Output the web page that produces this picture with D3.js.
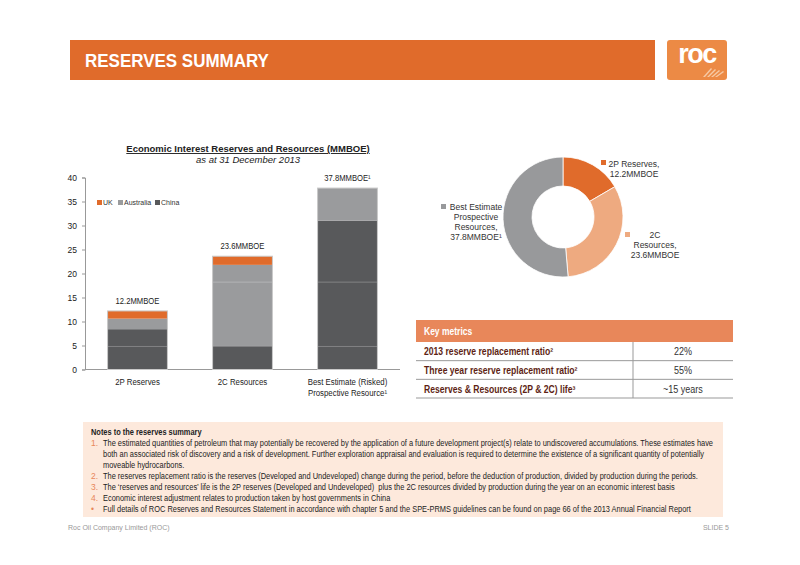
<!DOCTYPE html>
<html>
<head>
<meta charset="utf-8">
<script src="https://cdn.jsdelivr.net/npm/d3@7"></script>
<style>
  body { margin: 0; background: #fff; }
  svg { display: block; }
  text { font-family: "Liberation Sans Narrow", "Liberation Sans", Arial, sans-serif; }
</style>
</head>
<body>
<div id="slide"></div>
<script>
// bar chart data (MMBOE)
var categories = ["2P Reserves", "2C Resources", "Best Estimate (Risked)|Prospective Resource\u00b9"];
var china = [8.4, 4.9, 31.0];
var australia = [2.2, 16.9, 6.8];
var uk = [1.6, 1.8, 0];
var totalLabels = ["12.2MMBOE", "23.6MMBOE", "37.8MMBOE\u00b9"];
var segmentBreaks = [4.8, 18.2];
var yTicks = [0, 5, 10, 15, 20, 25, 30, 35, 40];

// donut data
var donutNames = ["2P Reserves", "2C Resources", "Best Estimate Prospective Resources"];
var donutValues = [12.2, 23.6, 37.8];

// key metrics table
var metricNames = ["2013 reserve replacement ratio\u00b2", "Three year reserve replacement ratio\u00b2", "Reserves & Resources (2P & 2C) life\u00b3"];
var metricValues = ["22%", "55%", "~15 years"];

var notes = [
  ["1.", ["The estimated quantities of petroleum that may potentially be recovered by the application of a future development project(s) relate to undiscovered accumulations. These estimates have",
          "both an associated risk of discovery and a risk of development. Further exploration appraisal and evaluation is required to determine the existence of a significant quantity of potentially",
          "moveable hydrocarbons."]],
  ["2.", ["The reserves replacement ratio is the reserves (Developed and Undeveloped) change during the period, before the deduction of production, divided by production during the periods."]],
  ["3.", ["The \u2018reserves and resources\u2019 life is the 2P reserves (Developed and Undeveloped)  plus the 2C resources divided by production during the year on an economic interest basis"]],
  ["4.", ["Economic interest adjustment relates to production taken by host governments in China"]],
  ["\u2022", ["Full details of ROC Reserves and Resources Statement in accordance with chapter 5 and the SPE-PRMS guidelines can be found on page 66 of the 2013 Annual Financial Report"]]
];

var orange = "#e06b2b",
    grey = "#9a9b9d",
    dark = "#58595b";

var svg = d3.select("#slide").append("svg")
    .attr("width", 800)
    .attr("height", 565);

// squeeze a text element horizontally (no narrow font available)
function condense(t, factor) {
  var w = t.node().getComputedTextLength();
  t.attr("textLength", w * factor).attr("lengthAdjust", "spacingAndGlyphs");
  return t;
}

// ---- header banner ----
svg.append("rect").attr("x", 70).attr("y", 40).attr("width", 585).attr("height", 40).attr("fill", orange);
condense(svg.append("text").attr("x", 85).attr("y", 67)
    .attr("fill", "#fff").attr("font-size", 17.5).attr("font-weight", "bold")
    .style("font-family", "'Liberation Sans', Arial, sans-serif")
    .text("RESERVES SUMMARY"), 0.97);

var logo = svg.append("g").attr("transform", "translate(667,40)");
logo.append("rect").attr("width", 60).attr("height", 40).attr("rx", 3).attr("fill", "#ec8a45");
logo.append("text").attr("x", 30).attr("y", 23).attr("text-anchor", "middle")
    .attr("fill", "#fff").attr("font-size", 27).attr("font-weight", "bold")
    .style("font-family", "'Liberation Sans', Arial, sans-serif")
    .attr("letter-spacing", -1.5)
    .text("roc");
[0, 1, 2, 3].forEach(function(k) {
  logo.append("path")
    .attr("d", "M" + (36 + k * 4) + ",37 L" + (44 + k * 4) + "," + (28 + k) + " L" + (45 + k * 4) + "," + (29 + k) + " L" + (38 + k * 4) + ",37 Z")
    .attr("fill", "#f6c9a4");
});

// ---- bar chart ----
var x = d3.scaleBand().domain(categories).range([85, 400]).paddingInner(0.43).paddingOuter(0.215);
var y = d3.scaleLinear().domain([0, 40]).range([369.5, 177.5]);

var chart = svg.append("g");

chart.append("text").attr("x", 248).attr("y", 152).attr("text-anchor", "middle")
    .attr("font-size", 9.5).attr("font-weight", "bold").attr("fill", "#222")
    .attr("text-decoration", "underline")
    .style("font-family", "'Liberation Sans', Arial, sans-serif")
    .text("Economic Interest Reserves and Resources (MMBOE)");
chart.append("text").attr("x", 248).attr("y", 163).attr("text-anchor", "middle")
    .attr("font-size", 9.5).attr("font-style", "italic").attr("fill", "#222")
    .style("font-family", "'Liberation Sans', Arial, sans-serif")
    .text("as at 31 December 2013");

var yAxis = chart.append("g")
    .attr("transform", "translate(85,0)")
    .call(d3.axisLeft(y).tickValues(yTicks).tickSize(3).tickPadding(5));
yAxis.select(".domain").attr("stroke", "#999");
yAxis.selectAll(".tick line").attr("stroke", "#999");
yAxis.selectAll("text").attr("font-size", 8.5).attr("fill", "#222")
    .style("font-family", "'Liberation Sans', Arial, sans-serif");

chart.append("line").attr("x1", 85).attr("x2", 400).attr("y1", y(0)).attr("y2", y(0)).attr("stroke", "#999");

var rows = categories.map(function(c, i) {
  return { cat: c, China: china[i], Australia: australia[i], UK: uk[i] };
});
var stack = d3.stack().keys(["China", "Australia", "UK"]);
var series = stack(rows);
var colour = { China: dark, Australia: grey, UK: orange };

chart.selectAll("g.series").data(series).join("g")
    .attr("class", "series")
    .attr("fill", function(d) { return colour[d.key]; })
  .selectAll("rect").data(function(d) { return d.filter(function(s) { return s[1] > s[0]; }); }).join("rect")
    .attr("x", function(d) { return x(d.data.cat); })
    .attr("width", x.bandwidth())
    .attr("y", function(d) { return y(d[1]); })
    .attr("height", function(d) { return y(d[0]) - y(d[1]); });

// faint breaks inside the stacks
categories.forEach(function(c, i) {
  var tot = china[i] + australia[i] + uk[i];
  segmentBreaks.forEach(function(b) {
    if (b < tot) {
      chart.append("line")
        .attr("x1", x(c)).attr("x2", x(c) + x.bandwidth())
        .attr("y1", y(b)).attr("y2", y(b))
        .attr("stroke", "#ffffff").attr("stroke-opacity", 0.25).attr("stroke-width", 1);
    }
  });
  chart.append("rect")
    .attr("x", x(c)).attr("y", y(tot))
    .attr("width", x.bandwidth()).attr("height", y(0) - y(tot))
    .attr("fill", "none").attr("stroke", "#c9c9c9").attr("stroke-width", 1);

  condense(chart.append("text")
    .attr("x", x(c) + x.bandwidth() / 2).attr("y", y(tot) - 7)
    .attr("text-anchor", "middle").attr("font-size", 8.5).attr("fill", "#222")
    .text(totalLabels[i]), 0.9);

  c.split("|").forEach(function(p, j) {
    condense(chart.append("text")
      .attr("x", x(c) + x.bandwidth() / 2).attr("y", 385 + j * 11)
      .attr("text-anchor", "middle").attr("font-size", 8.5).attr("fill", "#222")
      .text(p), 0.92);
  });
});

// legend
var legendKeys = ["UK", "Australia", "China"];
var legendX = [97, 118, 155];
legendKeys.forEach(function(k, i) {
  chart.append("rect").attr("x", legendX[i]).attr("y", 200).attr("width", 5).attr("height", 5).attr("fill", colour[k]);
  chart.append("text").attr("x", legendX[i] + 6).attr("y", 205)
      .attr("font-size", 7).attr("fill", "#333").text(k);
});

// ---- donut ----
var donutColours = [orange, "#eeaa80", "#98999b"];
var pie = d3.pie().sort(null).value(function(d) { return d; });
var arc = d3.arc().innerRadius(31).outerRadius(60);
var donut = svg.append("g").attr("transform", "translate(563,217)");
donut.selectAll("path").data(pie(donutValues)).join("path")
    .attr("d", arc)
    .attr("fill", function(d, i) { return donutColours[i]; })
    .attr("stroke", "#fff").attr("stroke-width", 0.8);

function donutLabel(lines, cx, y0, sq, col) {
  svg.append("rect").attr("x", sq[0]).attr("y", sq[1]).attr("width", 5).attr("height", 5).attr("fill", col);
  lines.forEach(function(l, j) {
    svg.append("text").attr("x", cx).attr("y", y0 + j * 10)
      .attr("text-anchor", "middle").attr("font-size", 8.5).attr("fill", "#333")
      .style("font-family", "'Liberation Sans', Arial, sans-serif")
      .text(l);
  });
}
donutLabel(["2P Reserves,", "12.2MMBOE"], 634, 167, [601, 160], donutColours[0]);
donutLabel(["2C", "Resources,", "23.6MMBOE"], 655, 238, [625, 232], donutColours[1]);
donutLabel(["Best Estimate", "Prospective", "Resources,", "37.8MMBOE\u00b9"], 476, 210, [441, 204], donutColours[2]);

// ---- key metrics table ----
var tbl = svg.append("g");
var rowY = d3.scaleBand().domain(d3.range(metricNames.length)).range([342, 398]);
tbl.append("rect").attr("x", 416).attr("y", 320).attr("width", 317).attr("height", 22).attr("fill", "#e8875a");
condense(tbl.append("text").attr("x", 424).attr("y", 335).attr("fill", "#fff")
    .attr("font-size", 10).attr("font-weight", "bold").text("Key metrics"), 0.85);
metricNames.forEach(function(m, i) {
  var ry = rowY(i);
  condense(tbl.append("text").attr("x", 424).attr("y", ry + rowY.bandwidth() / 2 + 4)
      .attr("font-size", 10).attr("font-weight", "bold").attr("fill", "#5e1f14").text(m), 0.86);
  condense(tbl.append("text").attr("x", 683).attr("y", ry + rowY.bandwidth() / 2 + 4)
      .attr("text-anchor", "middle").attr("font-size", 10).attr("fill", "#333").text(metricValues[i]), 0.9);
  tbl.append("line").attr("x1", 416).attr("x2", 733)
      .attr("y1", ry + rowY.bandwidth()).attr("y2", ry + rowY.bandwidth())
      .attr("stroke", "#999").attr("stroke-width", 1);
});
tbl.append("line").attr("x1", 633).attr("x2", 633).attr("y1", 342).attr("y2", 398).attr("stroke", "#999");

// ---- notes box ----
svg.append("rect").attr("x", 83).attr("y", 422).attr("width", 640).attr("height", 95).attr("fill", "#fde9dc");
var notesTitle = svg.append("text").attr("x", 91).attr("y", 435).attr("font-size", 8.5).attr("font-weight", "bold")
    .attr("fill", "#222").text("Notes to the reserves summary");

var ly = 446, squeeze = null;
notes.forEach(function(n) {
  svg.append("text").attr("x", 91).attr("y", ly).attr("font-size", 8.5).attr("fill", "#e8875a").text(n[0]);
  n[1].forEach(function(line) {
    var t = svg.append("text").attr("x", 103).attr("y", ly).attr("font-size", 8.5).attr("fill", "#222")
        .attr("xml:space", "preserve").text(line);
    // first line of note 1 runs right across the box
    if (squeeze === null) squeeze = 610 / t.node().getComputedTextLength();
    condense(t, squeeze);
    ly += 11;
  });
});
condense(notesTitle, squeeze);

// ---- footer ----
svg.append("text").attr("x", 68).attr("y", 530).attr("font-size", 7).attr("fill", "#999")
    .style("font-family", "'Liberation Sans', Arial, sans-serif")
    .text("Roc Oil Company Limited (ROC)");
svg.append("text").attr("x", 729).attr("y", 530).attr("text-anchor", "end").attr("font-size", 7).attr("fill", "#999")
    .style("font-family", "'Liberation Sans', Arial, sans-serif")
    .text("SLIDE 5");
</script>
</body>
</html>
